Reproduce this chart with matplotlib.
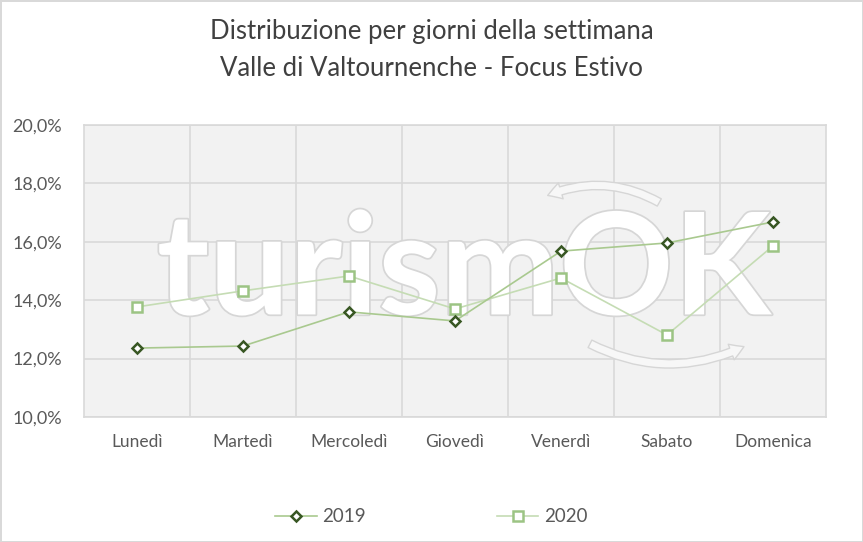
import matplotlib.pyplot as plt
import matplotlib.patheffects as pe
from matplotlib.patches import FancyArrowPatch
from matplotlib.ticker import FuncFormatter, MultipleLocator

giorni = ['Lunedì', 'Martedì', 'Mercoledì', 'Giovedì', 'Venerdì', 'Sabato', 'Domenica']
valori_2019 = [12.36, 12.43, 13.60, 13.29, 15.68, 15.96, 16.68]
valori_2020 = [13.77, 14.32, 14.83, 13.70, 14.76, 12.81, 15.86]

FONT = 'Lato'
TXT = '#595959'

fig = plt.figure(figsize=(8.63, 5.42), dpi=100)
fig.patch.set_facecolor('white')
fig.patch.set_edgecolor('#d9d9d9')
fig.patch.set_linewidth(2)

ax = fig.add_axes([84 / 863, 1 - 417 / 542, 742 / 863, 292 / 542])
ax.set_facecolor('#f2f2f2')

x = list(range(len(giorni)))

# watermark turismOK
wm = ax.text(3.08, 14.9, 'turismOK', fontsize=102, family=FONT, weight='bold', color='white',
             ha='center', va='center', zorder=1)
wm.set_path_effects([pe.Stroke(linewidth=2.5, foreground='#d6d6d6'), pe.Normal()])
for (a, b, rad) in [((4.95, 17.3), (3.85, 17.55), 0.25), ((4.25, 12.55), (5.75, 12.45), 0.25)]:
    arr = FancyArrowPatch(a, b, connectionstyle=f'arc3,rad={rad}',
                          arrowstyle='simple,head_width=12,head_length=10,tail_width=6',
                          facecolor='#f7f7f7', edgecolor='#d6d6d6', lw=1, zorder=1.5)
    ax.add_patch(arr)

ax.plot(x, valori_2019, color='#a9c98f', lw=1.2, marker='D', markersize=5.5,
        markerfacecolor='white', markeredgecolor='#385723', markeredgewidth=1.8,
        label='2019', zorder=4)
ax.plot(x, valori_2020, color='#c5dcb4', lw=1.2, marker='s', markersize=7,
        markerfacecolor='white', markeredgecolor='#9cc484', markeredgewidth=1.8,
        label='2020', zorder=3)

ax.set_xlim(-0.5, 6.5)
ax.set_ylim(10, 20)
ax.yaxis.set_major_locator(MultipleLocator(2))
ax.yaxis.set_major_formatter(FuncFormatter(lambda v, p: f'{v:.1f}%'.replace('.', ',')))
ax.set_xticks(x)
ax.set_xticklabels(giorni)
ax.set_xticks([i + 0.5 for i in range(6)], minor=True)
ax.grid(axis='y', which='major', color='#d9d9d9', lw=1.2, zorder=0)
ax.grid(axis='x', which='minor', color='#d9d9d9', lw=1.2, zorder=0)
ax.set_axisbelow(True)
for s in ax.spines.values():
    s.set_color('#d9d9d9')
    s.set_linewidth(1.2)
ax.tick_params(which='both', length=0)
ax.tick_params(axis='y', pad=16, labelsize=13, labelcolor=TXT)
ax.tick_params(axis='x', pad=12, labelsize=12.5, labelcolor=TXT)
for lab in ax.get_xticklabels() + ax.get_yticklabels():
    lab.set_family(FONT)

fig.text(0.5, 1 - 31 / 542, 'Distribuzione per giorni della settimana', ha='center', va='center',
         fontsize=18.5, family=FONT, color='#404040')
fig.text(0.5, 1 - 68 / 542, 'Valle di Valtournenche - Focus Estivo', ha='center', va='center',
         fontsize=18.5, family=FONT, color='#404040')

leg = fig.legend(loc='center', bbox_to_anchor=(0.5, 1 - 517 / 542), ncol=2, frameon=False,
                 columnspacing=7, handlelength=2.2, handletextpad=0.3,
                 prop={'family': FONT, 'size': 13.5})
for t in leg.get_texts():
    t.set_color(TXT)

fig.savefig('out.png', dpi=100)
